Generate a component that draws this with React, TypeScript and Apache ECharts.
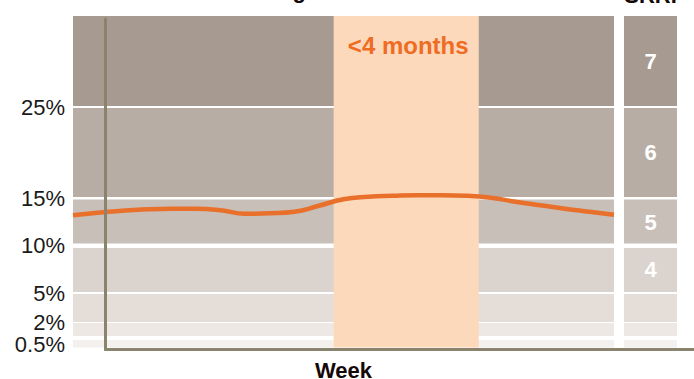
import React, { useEffect, useRef } from "react";
import * as echarts from "echarts";

// ---- data ----
const bandBounds = [0, 0.5, 2, 5, 10, 15, 25, 35]; // volatility limits (%) of SRRI classes 1..7
const srriLabels = ["", "", "", "4", "5", "6", "7"];
const yTickValues = [0.5, 2, 5, 10, 15, 25];
const yTickLabels = ["0.5%", "2%", "5%", "10%", "15%", "25%"];
const weeks = [0, 1, 2, 3, 4, 5, 6, 7, 8, 9, 10, 11, 12, 13, 14, 15, 16, 17, 18, 19, 20, 21, 22];
const volatility = [
  13.2, 13.47, 13.68, 13.84, 13.9, 13.9, 13.74, 13.37, 13.42, 13.58, 14.21, 14.89,
  15.16, 15.27, 15.33, 15.33, 15.27, 15.05, 14.63, 14.26, 13.9, 13.58, 13.26,
];
const highlightWeeks = [10.6, 16.5];
const highlightLabel = "<4 months";
const xAxisName = "Week";
const leftTitle = "Risk banding";
const rightTitle = "SRRI";

// ---- styles ----
const bandSpans = [9.5, 15.5, 29.5, 47.25, 47.5, 91.25, 91]; // axis units per band
const gapPx = [4, 1, 2, 4.5, 2.5, 2]; // white separators at 0.5,2,5,10,15,25
const bandColors = ["#f3f0ed", "#ede8e4", "#e4ddd8", "#dbd3ce", "#c8bfb9", "#b8ada5", "#a69a91"];
const FONT = "'Liberation Sans', Arial, sans-serif";

const cum: number[] = [0];
bandSpans.forEach((s, i) => cum.push(cum[i] + s));
const totalSpan = cum[cum.length - 1];

function toAxis(v: number): number {
  for (let i = 0; i < bandBounds.length - 1; i++) {
    const lo = bandBounds[i];
    const hi = bandBounds[i + 1];
    if (v <= hi || i === bandBounds.length - 2) {
      return cum[i] + ((v - lo) / (hi - lo)) * bandSpans[i];
    }
  }
  return totalSpan;
}

const bandData = bandSpans.map((_, i) => [toAxis(bandBounds[i]), toAxis(bandBounds[i + 1]), i]);

function bandRender(withLabels: boolean) {
  return (params: any, api: any) => {
    const lo = api.value(0);
    const hi = api.value(1);
    const i = api.value(2);
    const cs = params.coordSys;
    const yLo = api.coord([0, lo])[1];
    const yHi = api.coord([0, hi])[1];
    const gb = i > 0 ? gapPx[i - 1] / 2 : 0;
    const gt = i < bandSpans.length - 1 ? gapPx[i] / 2 : 0;
    const children: any[] = [
      {
        type: "rect",
        shape: { x: cs.x, y: yHi + gt, width: cs.width, height: yLo - gb - (yHi + gt) },
        style: { fill: bandColors[i] },
      },
    ];
    if (withLabels && srriLabels[i]) {
      children.push({
        type: "text",
        x: cs.x + cs.width / 2,
        y: (yLo + yHi) / 2,
        style: {
          text: srriLabels[i],
          fill: "#ffffff",
          font: `bold 22px ${FONT}`,
          align: "center",
          verticalAlign: "middle",
        },
      });
    }
    return { type: "group", children };
  };
}

export default function App() {
  const ref = useRef<HTMLDivElement>(null);
  useEffect(() => {
    if (!ref.current) return;
    const chart = echarts.init(ref.current, null, { renderer: "svg" });
    const tickAxisVals = yTickValues.map(toAxis);
    chart.setOption({
      animation: false,
      textStyle: { fontFamily: FONT },
      grid: [
        { left: 73, top: 16, width: 541, height: totalSpan, outerBoundsMode: "none", containLabel: false },
        { left: 624, top: 16, width: 53, height: totalSpan, outerBoundsMode: "none", containLabel: false },
        { left: 105.5, top: 19, right: 0, height: 330.5, outerBoundsMode: "none", containLabel: false },
      ],
      xAxis: [
        {
          gridIndex: 0,
          type: "value",
          min: weeks[0],
          max: weeks[weeks.length - 1],
          axisLine: { show: false },
          axisTick: { show: false },
          axisLabel: { show: false },
          splitLine: { show: false },
          name: xAxisName,
          nameLocation: "middle",
          nameGap: 12,
          nameTextStyle: { fontSize: 22, fontWeight: "bold", color: "#150808", fontFamily: FONT },
        },
        {
          gridIndex: 1,
          type: "value",
          min: 0,
          max: 1,
          show: false,
        },
        {
          gridIndex: 2,
          type: "value",
          min: 0,
          max: 1,
          z: 10,
          axisLine: { show: true, onZero: false, lineStyle: { color: "#8a846e", width: 3 } },
          axisTick: { show: false },
          axisLabel: { show: false },
          splitLine: { show: false },
        },
      ],
      yAxis: [
        {
          gridIndex: 0,
          type: "value",
          min: 0,
          max: totalSpan,
          axisLine: { show: false },
          axisTick: { show: false },
          splitLine: { show: false },
          axisLabel: {
            show: true,
            customValues: tickAxisVals,
            showMinLabel: true,
            showMaxLabel: true,
            hideOverlap: false,
            margin: 8,
            fontSize: 22,
            color: "#1a1a1a",
            fontFamily: FONT,
            formatter: (val: number) => {
              const j = tickAxisVals.findIndex((t) => Math.abs(t - val) < 1e-6);
              if (j < 0) return "";
              return j === 0 ? `{low|${yTickLabels[j]}}` : yTickLabels[j];
            },
            rich: {
              low: { padding: [13, 0, 0, 0], fontSize: 22, color: "#1a1a1a", fontFamily: FONT },
            },
          },
        },
        {
          gridIndex: 1,
          type: "value",
          min: 0,
          max: totalSpan,
          show: false,
        },
        {
          gridIndex: 2,
          type: "value",
          min: 0,
          max: 1,
          z: 10,
          axisLine: { show: true, onZero: false, lineStyle: { color: "#8a846e", width: 3 } },
          axisTick: { show: false },
          axisLabel: { show: false },
          splitLine: { show: false },
        },
      ],
      series: [
        {
          type: "custom",
          xAxisIndex: 0,
          yAxisIndex: 0,
          z: 0,
          silent: true,
          renderItem: bandRender(false),
          data: bandData,
        },
        {
          type: "custom",
          xAxisIndex: 1,
          yAxisIndex: 1,
          z: 0,
          silent: true,
          renderItem: bandRender(true),
          data: bandData,
        },
        {
          type: "line",
          xAxisIndex: 0,
          yAxisIndex: 0,
          z: 3,
          smooth: true,
          symbol: "none",
          lineStyle: { color: "#e8702a", width: 4.5 },
          data: weeks.map((w, i) => [w, toAxis(volatility[i])]),
          markArea: {
            silent: true,
            itemStyle: { color: "#fdd9bc" },
            label: {
              show: true,
              position: "insideTop",
              distance: 17,
              offset: [2, 0],
              color: "#ef6c22",
              fontSize: 24,
              fontWeight: "bold",
              fontFamily: FONT,
              formatter: highlightLabel,
            },
            data: [[{ xAxis: highlightWeeks[0] }, { xAxis: highlightWeeks[1] }]],
          },
        },
      ],
      graphic: [
        {
          type: "text",
          x: 306,
          y: 1,
          style: {
            text: leftTitle,
            font: `bold 22px ${FONT}`,
            fill: "#150808",
            align: "right",
            verticalAlign: "bottom",
          },
        },
        {
          type: "text",
          x: 650.5,
          y: 6.5,
          style: {
            text: rightTitle,
            font: `bold 22px ${FONT}`,
            fill: "#150808",
            align: "center",
            verticalAlign: "bottom",
          },
        },
      ],
    });
    return () => chart.dispose();
  }, []);
  return (
    <div
      ref={ref}
      style={{ position: "absolute", left: 0, top: 0, width: 694, height: 379 }}
    />
  );
}
